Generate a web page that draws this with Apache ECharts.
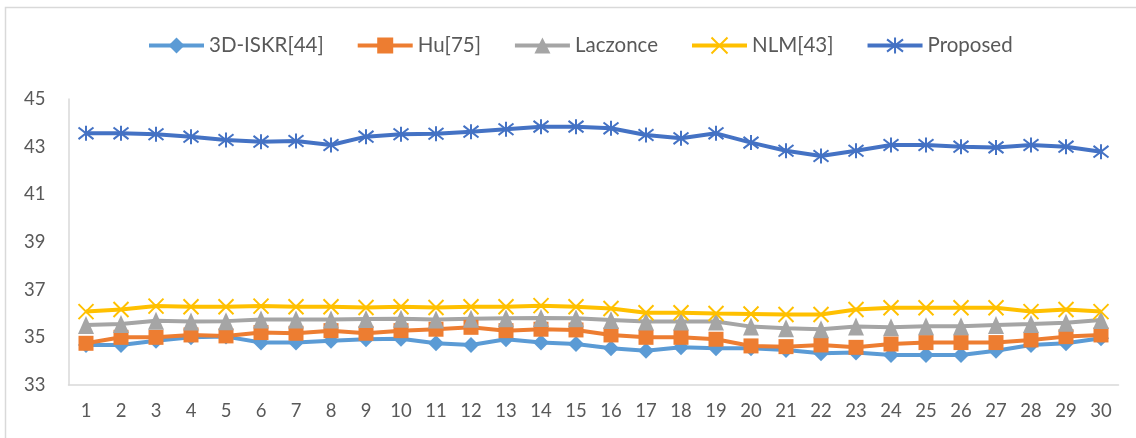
<!DOCTYPE html>
<html>
<head>
<meta charset="utf-8">
<script src="https://cdn.jsdelivr.net/npm/echarts@6/dist/echarts.min.js"></script>
<style>
html,body{margin:0;padding:0;background:#fff;}
#chart{width:1136px;height:438px;}
</style>
</head>
<body>
<div id="chart"></div>
<script>
var categories = ['1','2','3','4','5','6','7','8','9','10','11','12','13','14','15','16','17','18','19','20','21','22','23','24','25','26','27','28','29','30'];
var iskr = [34.68,34.68,34.86,35.00,35.03,34.78,34.78,34.86,34.92,34.94,34.75,34.68,34.92,34.78,34.72,34.54,34.44,34.58,34.54,34.54,34.47,34.33,34.36,34.26,34.26,34.26,34.44,34.68,34.75,34.96];
var hu = [34.75,35.00,35.00,35.10,35.06,35.20,35.17,35.28,35.17,35.28,35.34,35.42,35.28,35.34,35.31,35.10,35.00,35.00,34.92,34.64,34.61,34.68,34.58,34.72,34.78,34.78,34.78,34.89,35.03,35.10];
var laczonce = [35.52,35.56,35.70,35.66,35.68,35.75,35.75,35.75,35.77,35.78,35.75,35.78,35.80,35.81,35.80,35.73,35.66,35.66,35.66,35.45,35.38,35.34,35.45,35.42,35.47,35.47,35.52,35.56,35.61,35.73];
var nlm = [36.08,36.17,36.31,36.28,36.28,36.31,36.28,36.28,36.25,36.28,36.25,36.28,36.28,36.33,36.28,36.21,36.03,36.03,36.00,35.98,35.96,35.96,36.17,36.24,36.24,36.24,36.24,36.08,36.17,36.08];
var proposed = [43.56,43.56,43.52,43.42,43.28,43.21,43.24,43.07,43.42,43.52,43.54,43.63,43.73,43.84,43.84,43.77,43.49,43.35,43.56,43.17,42.83,42.61,42.83,43.07,43.07,43.00,42.97,43.07,43.00,42.79];
var seriesNames = ['3D-ISKR[44]','Hu[75]','Laczonce','NLM[43]','Proposed'];

var FONT = 'Lato';
var TXT = '#595959';
var XPATH = 'path://M0,0L10,10M10,0L0,10';
var STARPATH = 'path://M0,0L10,10M10,0L0,10M5,-1.5L5,11.5';

function lineSeries(name, data, color, symbol, size, stroked) {
  return {
    name: name, type: 'line', data: data,
    symbol: symbol, symbolSize: size,
    lineStyle: {color: color, width: 4},
    itemStyle: stroked ? {color: 'rgba(0,0,0,0)', borderColor: color, borderWidth: 2} : {color: color},
    emphasis: {disabled: true},
    animation: false
  };
}

var chart = echarts.init(document.getElementById('chart'), null, {renderer: 'canvas'});
chart.setOption({
  backgroundColor: '#fff',
  animation: false,
  graphic: [{
    type: 'rect', shape: {x: 5.5, y: 7.5, width: 1140, height: 440},
    style: {fill: 'none', stroke: '#d9d9d9', lineWidth: 1.5}, z: -1
  }],
  legend: {
    left: 147, top: 35, padding: 0,
    itemWidth: 55, itemHeight: 20, itemGap: 32,
    lineStyle: {width: 4},
    textStyle: {fontFamily: FONT, fontSize: 20.5, color: TXT},
    data: seriesNames
  },
  grid: {left: 68.5, right: 17.5, top: 99, bottom: 53},
  xAxis: {
    type: 'category', data: categories, boundaryGap: true,
    axisLine: {show: true, lineStyle: {color: '#d9d9d9', width: 1.5}},
    axisTick: {show: false},
    axisLabel: {fontFamily: FONT, fontSize: 18.5, color: TXT, margin: 17, interval: 0}
  },
  yAxis: {
    type: 'value', min: 33, max: 45, interval: 2,
    axisLine: {show: true, lineStyle: {color: '#d9d9d9', width: 1.5}},
    axisTick: {show: false},
    splitLine: {show: false},
    axisLabel: {fontFamily: FONT, fontSize: 18.5, color: TXT, margin: 23}
  },
  series: [
    lineSeries(seriesNames[0], iskr, '#5B9BD5', 'diamond', 16, false),
    lineSeries(seriesNames[1], hu, '#ED7D31', 'rect', 15, false),
    lineSeries(seriesNames[2], laczonce, '#A5A5A5', 'triangle', [16, 18], false),
    lineSeries(seriesNames[3], nlm, '#FFC000', XPATH, 15, true),
    lineSeries(seriesNames[4], proposed, '#4472C4', STARPATH, 15, true)
  ]
});
</script>
</body>
</html>
